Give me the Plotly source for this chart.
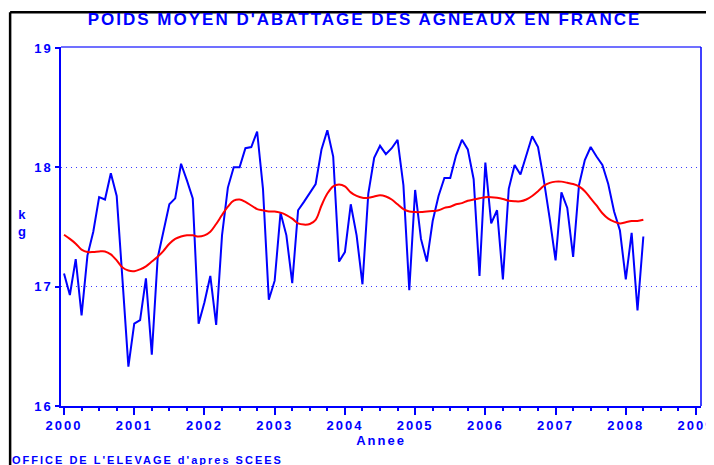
import plotly.graph_objects as go

# Monthly data, Jan 2000 .. Apr 2008
years_start = 2000
poids = [17.11, 16.93, 17.23, 16.76, 17.26, 17.46, 17.75, 17.73, 17.95, 17.76, 17.05, 16.33,
         16.69, 16.72, 17.07, 16.43, 17.24, 17.46, 17.69, 17.74, 18.03, 17.89, 17.74, 16.69,
         16.87, 17.09, 16.68, 17.43, 17.83, 18.00, 18.00, 18.16, 18.17, 18.30, 17.82, 16.89,
         17.05, 17.62, 17.43, 17.03, 17.64, 17.71, 17.78, 17.86, 18.15, 18.31, 18.09, 17.21,
         17.29, 17.69, 17.43, 17.02, 17.78, 18.08, 18.18, 18.11, 18.16, 18.23, 17.85, 16.97,
         17.81, 17.40, 17.21, 17.55, 17.76, 17.91, 17.91, 18.10, 18.23, 18.15, 17.90, 17.09,
         18.04, 17.53, 17.64, 17.06, 17.82, 18.02, 17.94, 18.09, 18.26, 18.17, 17.89, 17.57,
         17.22, 17.79, 17.66, 17.25, 17.85, 18.06, 18.17, 18.09, 18.02, 17.86, 17.63, 17.47,
         17.06, 17.45, 16.80, 17.42]

tendance = [17.435, 17.40, 17.36, 17.31, 17.29, 17.29, 17.295, 17.295, 17.27, 17.22, 17.16, 17.135,
            17.13, 17.145, 17.17, 17.21, 17.25, 17.30, 17.36, 17.40, 17.42, 17.43, 17.43, 17.42,
            17.43, 17.46, 17.525, 17.60, 17.67, 17.72, 17.73, 17.71, 17.68, 17.65, 17.64, 17.63,
            17.63, 17.62, 17.60, 17.57, 17.53, 17.52, 17.525, 17.56, 17.68, 17.78, 17.84, 17.855,
            17.84, 17.79, 17.76, 17.745, 17.745, 17.755, 17.765, 17.755, 17.73, 17.69, 17.65, 17.63,
            17.625, 17.625, 17.63, 17.633, 17.64, 17.66, 17.67, 17.69, 17.70, 17.72, 17.73, 17.74,
            17.75, 17.75, 17.745, 17.735, 17.72, 17.715, 17.715, 17.73, 17.76, 17.80, 17.845, 17.87,
            17.88, 17.88, 17.87, 17.86, 17.84, 17.80, 17.74, 17.68, 17.615, 17.57, 17.545, 17.53,
            17.54, 17.55, 17.55, 17.56]

x_ticks = list(range(2000, 2010))
y_ticks = [16, 17, 18, 19]

dates = [years_start + i / 12 for i in range(len(poids))]

BLUE = "#0000ff"
FONT = "Liberation Sans, Arial, sans-serif"


def spaced(t, ls=2):
    return '<span style="letter-spacing:%dpx"><b>%s</b></span>' % (ls, t)


fig = go.Figure()
fig.add_trace(go.Scatter(x=dates, y=poids, mode="lines",
                         line=dict(color=BLUE, width=2), hoverinfo="skip"))
fig.add_trace(go.Scatter(x=dates, y=tendance, mode="lines",
                         line=dict(color="#ff0000", width=2, shape="spline"), hoverinfo="skip"))

# the page body adds an 8px offset, so the figure is 8px smaller and margins shifted
fig.update_layout(
    width=706, height=457,
    margin=dict(l=53, r=13, t=39, b=59, autoexpand=False),
    paper_bgcolor="white", plot_bgcolor="white",
    showlegend=False,
    title=dict(text=spaced("POIDS MOYEN D'ABATTAGE DES AGNEAUX EN FRANCE", 2),
               x=0.505, xanchor="center", y=0.975, yanchor="middle",
               font=dict(family=FONT, size=17, color=BLUE)),
    xaxis=dict(range=[1999.957, 2009.071], tickvals=x_ticks,
               ticktext=[spaced(str(v), 2) for v in x_ticks],
               ticklabeloverflow="allow",
               showgrid=False, zeroline=False, automargin=False,
               showline=True, linecolor=BLUE, linewidth=1.5,
               ticks="outside", ticklen=7, tickwidth=1.5, tickcolor=BLUE,
               minor=dict(dtick=0.25, tick0=2000, ticks="outside", ticklen=3,
                          tickwidth=1.5, tickcolor=BLUE, showgrid=False),
               tickfont=dict(family=FONT, size=13, color=BLUE),
               title=dict(text=spaced("Annee", 2), standoff=2,
                          font=dict(family=FONT, size=13, color=BLUE))),
    yaxis=dict(range=[16, 19.008], tickvals=y_ticks,
               ticktext=[spaced(str(v), 2) for v in y_ticks],
               showgrid=True, gridcolor="#3a3aff", griddash="1px,4px", gridwidth=1,
               zeroline=False, showline=True, linecolor=BLUE, linewidth=1.5,
               automargin=False,
               ticks="outside", ticklen=4, tickwidth=1.5, tickcolor=BLUE,
               tickfont=dict(family=FONT, size=13, color=BLUE)),
)

# frame: top and right
fig.add_shape(type="line", xref="paper", yref="paper", x0=0, x1=1, y0=1, y1=1,
              line=dict(color="#7070ff", width=2))
fig.add_shape(type="line", xref="paper", yref="paper", x0=1, x1=1, y0=0, y1=1,
              line=dict(color=BLUE, width=1.5))
# page border lines (black, left and top)
fig.add_shape(type="line", xref="paper", yref="paper", x0=-0.0795, x1=-0.0795, y0=-0.2, y1=1.097,
              line=dict(color="black", width=2.5))
fig.add_shape(type="line", xref="paper", yref="paper", x0=-0.0795, x1=1.03, y0=1.097, y1=1.097,
              line=dict(color="black", width=2.5))

fig.add_annotation(text="<b>k<br>g</b>", xref="paper", yref="paper",
                   x=-0.07, y=0.51, showarrow=False, align="center",
                   font=dict(family=FONT, size=13, color=BLUE))
fig.add_annotation(text=spaced("OFFICE DE L'ELEVAGE d'apres SCEES", 2), xref="paper", yref="paper",
                   x=-0.079, xanchor="left", y=-0.128, yanchor="top", showarrow=False,
                   font=dict(family=FONT, size=11, color=BLUE))

fig.write_html("out.html")
